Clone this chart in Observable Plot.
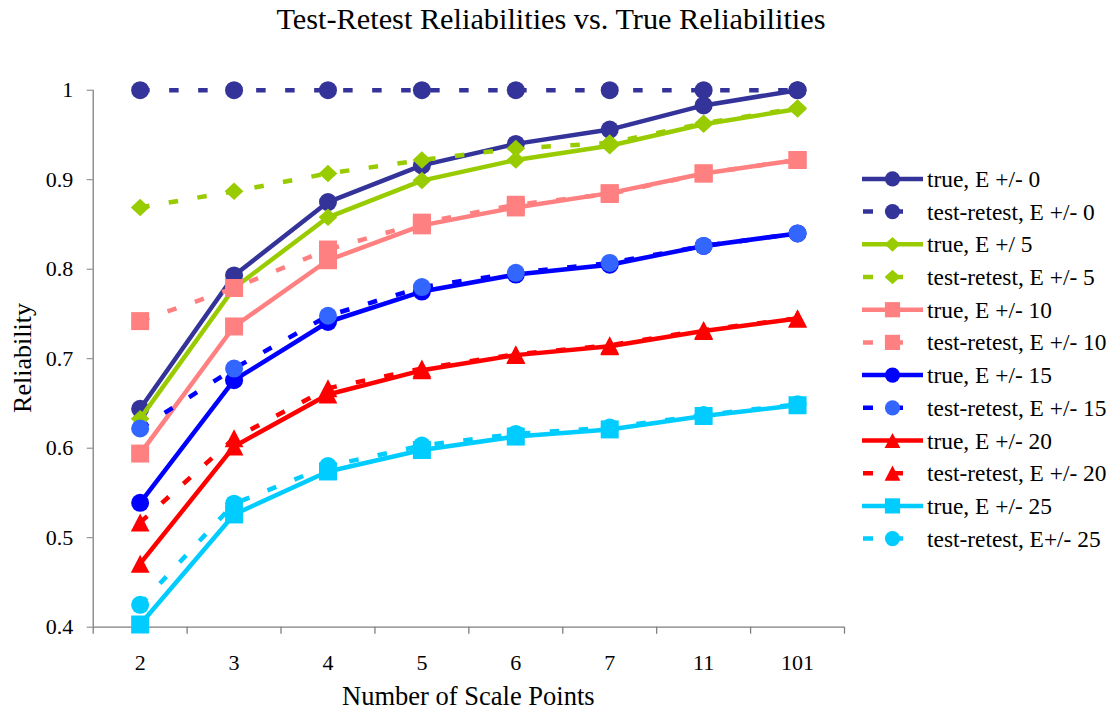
<!DOCTYPE html>
<html>
<head>
<meta charset="utf-8">
<script src="https://cdn.jsdelivr.net/npm/d3@7"></script>
<script src="https://cdn.jsdelivr.net/npm/@observablehq/plot@0.6"></script>
<style>
  html, body { margin: 0; padding: 0; background: #fff; }
  #chart { position: relative; width: 1113px; height: 719px; font-family: "Liberation Serif", "Times New Roman", serif; }
  #chart svg { position: absolute; left: 0; top: 0; }
  #chart svg text { font-family: "Liberation Serif", "Times New Roman", serif; }
</style>
</head>
<body>
<div id="chart"></div>
<script>
// Categories on the x axis
const scalePoints = ["2", "3", "4", "5", "6", "7", "11", "101"];

// Reliability values per scale-point count
const trueE0    = [0.644, 0.793, 0.875, 0.916, 0.940, 0.956, 0.983, 1.000];
const retestE0  = [1.000, 1.000, 1.000, 1.000, 1.000, 1.000, 1.000, 1.000];
const trueE5    = [0.633, 0.779, 0.858, 0.899, 0.922, 0.938, 0.962, 0.979];
const retestE5  = [0.869, 0.887, 0.907, 0.922, 0.935, 0.941, 0.963, 0.980];
const trueE10   = [0.594, 0.736, 0.810, 0.849, 0.869, 0.885, 0.907, 0.922];
const retestE10 = [0.742, 0.779, 0.822, 0.852, 0.872, 0.884, 0.907, 0.922];
const trueE15   = [0.539, 0.676, 0.741, 0.775, 0.794, 0.805, 0.826, 0.840];
const retestE15 = [0.622, 0.689, 0.748, 0.780, 0.796, 0.807, 0.826, 0.840];
const trueE20   = [0.471, 0.602, 0.660, 0.687, 0.704, 0.714, 0.731, 0.745];
const retestE20 = [0.517, 0.611, 0.667, 0.689, 0.705, 0.715, 0.732, 0.745];
const trueE25   = [0.403, 0.526, 0.574, 0.598, 0.613, 0.621, 0.636, 0.648];
const retestE25 = [0.425, 0.538, 0.580, 0.603, 0.616, 0.623, 0.637, 0.649];

const seriesLabels = [
  "true, E +/- 0", "test-retest, E +/- 0",
  "true, E +/ 5", "test-retest, E +/- 5",
  "true, E +/- 10", "test-retest, E +/- 10",
  "true, E +/- 15", "test-retest, E +/- 15",
  "true, E +/- 20", "test-retest, E +/- 20",
  "true, E +/- 25", "test-retest, E+/- 25"
];
const yTicks = [0.4, 0.5, 0.6, 0.7, 0.8, 0.9, 1];

// Marker shapes (size = π r², so r = sqrt(size / π))
const rad = size => Math.sqrt(size / Math.PI);
const squareSym = { draw(c, size) { const r = rad(size); c.rect(-r, -r, 2 * r, 2 * r); } };
const diamondSym = { draw(c, size) { const r = rad(size); c.moveTo(0, -r * 0.97); c.lineTo(r * 1.04, 0); c.lineTo(0, r * 0.97); c.lineTo(-r * 1.04, 0); c.closePath(); } };
const triangleSym = { draw(c, size) { const r = rad(size); c.moveTo(0, -r); c.lineTo(r * 1.04, r); c.lineTo(-r * 1.04, r); c.closePath(); } };
const circleSym = "circle";

const navy = "#333399", lime = "#99cc00", salmon = "#ff8080", blue = "#0000ff", red = "#ff0000", cyan = "#00ccff";

const series = [
  { values: trueE0,    color: navy,   marker: navy,      symbol: circleSym,   dashed: false },
  { values: retestE0,  color: navy,   marker: navy,      symbol: circleSym,   dashed: true },
  { values: trueE5,    color: lime,   marker: lime,      symbol: diamondSym,  dashed: false },
  { values: retestE5,  color: lime,   marker: lime,      symbol: diamondSym,  dashed: true },
  { values: trueE10,   color: salmon, marker: salmon,    symbol: squareSym,   dashed: false },
  { values: retestE10, color: salmon, marker: salmon,    symbol: squareSym,   dashed: true },
  { values: trueE15,   color: blue,   marker: blue,      symbol: circleSym,   dashed: false },
  { values: retestE15, color: blue,   marker: "#3366ff", symbol: circleSym,   dashed: true },
  { values: trueE20,   color: red,    marker: red,       symbol: triangleSym, dashed: false },
  { values: retestE20, color: red,    marker: red,       symbol: triangleSym, dashed: true },
  { values: trueE25,   color: cyan,   marker: cyan,      symbol: squareSym,   dashed: false },
  { values: retestE25, color: cyan,   marker: cyan,      symbol: circleSym,   dashed: true }
].map((s, k) => ({ ...s, label: seriesLabels[k] }));

const DASH = "9.5,19.5";
const axisGray = "#7f7f7f";
const serif = "Liberation Serif";
const W = 1113, H = 719;
const margin = { left: 92.7, right: 269, top: 89.7, bottom: 92.3 };

const catIndex = scalePoints.map((_, i) => i);
const bandEdges = d3.range(-0.5, scalePoints.length, 1);

const rowsOf = s => s.values.map((v, i) => ({ i, v, cat: scalePoints[i] }));

const plot = Plot.plot({
  width: W,
  height: H,
  marginLeft: margin.left,
  marginRight: margin.right,
  marginTop: margin.top,
  marginBottom: margin.bottom,
  style: { fontFamily: "'Liberation Serif', 'Times New Roman', serif", background: "transparent", overflow: "visible" },
  x: { type: "linear", domain: [-0.5, scalePoints.length - 0.5] },
  y: { type: "linear", domain: [0.4, 1] },
  marks: [
    Plot.axisY(yTicks, { tickSize: 6, tickPadding: 14, tickFormat: d3.format("~g"), fontSize: 22, fontFamily: serif, stroke: axisGray, fill: "black", label: null }),
    Plot.axisX(catIndex, { tickSize: 0, tickPadding: 27, tickFormat: i => scalePoints[i], fontSize: 22, fontFamily: serif, fill: "black", label: null }),
    Plot.axisX(bandEdges, { tickSize: 7, tickFormat: () => "", stroke: axisGray, strokeWidth: 1.3, label: null }),
    Plot.ruleY([0.4], { stroke: axisGray, strokeWidth: 1.3 }),
    Plot.ruleX([-0.5], { stroke: axisGray, strokeWidth: 1.3 }),
    ...series.flatMap(s => [
      Plot.line(rowsOf(s), {
        x: "i", y: "v", stroke: s.color, strokeWidth: 4.5,
        strokeDasharray: s.dashed ? DASH : null,
        strokeLinecap: "butt", strokeLinejoin: "round"
      }),
      Plot.dot(rowsOf(s), { x: "i", y: "v", r: 9, symbol: s.symbol, fill: s.marker, stroke: "none" })
    ])
  ]
});

const chart = document.getElementById("chart");
chart.appendChild(plot);

// Title, axis titles and legend
const overlay = d3.select(chart).append("svg")
  .attr("width", W).attr("height", H)
  .style("pointer-events", "none")
  .style("font-family", "'Liberation Serif', 'Times New Roman', serif");

overlay.append("text")
  .attr("x", 551).attr("y", 29)
  .attr("text-anchor", "middle")
  .attr("font-size", 30.3)
  .text("Test-Retest Reliabilities vs. True Reliabilities");

overlay.append("text")
  .attr("x", (margin.left + (W - margin.right)) / 2).attr("y", 705)
  .attr("text-anchor", "middle")
  .attr("font-size", 26.5)
  .text("Number of Scale Points");

overlay.append("text")
  .attr("transform", "translate(31,358) rotate(-90)")
  .attr("text-anchor", "middle")
  .attr("font-size", 26)
  .text("Reliability");

const legend = overlay.append("g");
const rowY0 = 178.9, rowStep = 32.7;
series.forEach((s, k) => {
  const y = rowY0 + k * rowStep;
  const g = legend.append("g").attr("transform", `translate(0,${y})`);
  if (s.dashed) {
    g.append("line").attr("x1", 863).attr("x2", 903.5).attr("y1", 0).attr("y2", 0)
      .attr("stroke", s.color).attr("stroke-width", 4.5).attr("stroke-dasharray", "10,20");
  } else {
    g.append("line").attr("x1", 862).attr("x2", 923).attr("y1", 0).attr("y2", 0)
      .attr("stroke", s.color).attr("stroke-width", 4.5);
  }
  const sym = s.symbol === "circle" ? d3.symbolCircle : s.symbol;
  g.append("path")
    .attr("transform", "translate(892.5,0)")
    .attr("d", d3.symbol(sym, Math.PI * 7.6 * 7.6)())
    .attr("fill", s.marker);
  g.append("text")
    .attr("x", 927).attr("y", 8)
    .attr("font-size", 23.4)
    .text(s.label);
});
</script>
</body>
</html>
